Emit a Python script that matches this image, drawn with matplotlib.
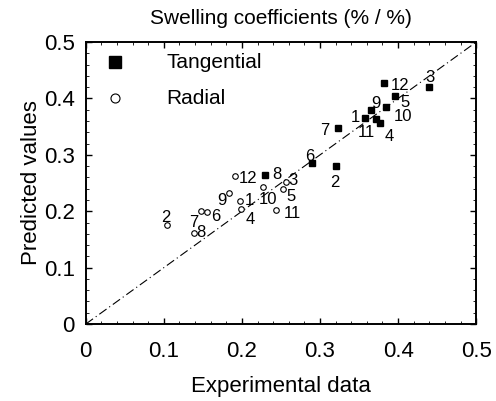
import numpy as np
import matplotlib.pyplot as plt
from matplotlib.ticker import MultipleLocator, FuncFormatter

plt.rcParams['font.family'] = ['Liberation Sans', 'DejaVu Sans']

# Data
labels = ['1', '2', '3', '4', '5', '6', '7', '8', '9', '10', '11', '12']
tan_exp = [0.357, 0.320, 0.440, 0.377, 0.396, 0.290, 0.323, 0.230, 0.365, 0.385, 0.372, 0.382]
tan_pred = [0.365, 0.280, 0.421, 0.356, 0.404, 0.285, 0.347, 0.264, 0.379, 0.385, 0.363, 0.428]
rad_exp = [0.198, 0.104, 0.256, 0.199, 0.253, 0.155, 0.147, 0.138, 0.183, 0.227, 0.243, 0.191]
rad_pred = [0.219, 0.176, 0.252, 0.204, 0.240, 0.198, 0.200, 0.161, 0.233, 0.243, 0.202, 0.262]

# label offsets (points)
tan_off = {'1': (-10, -3), '2': (-4, -15), '3': (-3, 3), '4': (3, -13), '5': (4, -8),
           '6': (-5, 2), '7': (-13, -5), '8': (5, -3), '9': (0, 2), '10': (5, -10),
           '11': (-13, -13), '12': (5, -5)}
rad_off = {'1': (3, -3), '2': (-4, 2), '3': (2, -2), '4': (3, -11), '5': (2, -9),
           '6': (3, -6), '7': (-8, -11), '8': (2, -3), '9': (-8, -9), '10': (-3, -12),
           '11': (6, -6), '12': (3, -5)}

fig = plt.figure(figsize=(4.96, 4.01), dpi=100)
ax = fig.add_axes([0.173, 0.192, 0.787, 0.703])

ax.plot([0, 0.5], [0, 0.5], color='black', lw=0.8, dashes=(8, 3, 1, 3))
ax.plot(tan_exp, tan_pred, 's', color='black', ms=5, lw=0)
ax.plot(rad_exp, rad_pred, 'o', mfc='white', mec='black', ms=4, mew=0.8, lw=0)

for lb, x, y in zip(labels, tan_exp, tan_pred):
    ax.annotate(lb, (x, y), xytext=tan_off[lb], textcoords='offset points', fontsize=12)
for lb, x, y in zip(labels, rad_exp, rad_pred):
    ax.annotate(lb, (x, y), xytext=rad_off[lb], textcoords='offset points', fontsize=12)

# legend drawn by hand
ax.plot([0.038], [0.4645], 's', color='black', ms=8)
ax.plot([0.038], [0.4005], 'o', mfc='white', mec='black', ms=6.5, mew=0.8)
ax.text(0.103, 0.4645, 'Tangential', fontsize=15, va='center')
ax.text(0.103, 0.4005, 'Radial', fontsize=15, va='center')

ax.set_xlim(0, 0.5)
ax.set_ylim(0, 0.5)
ax.xaxis.set_major_locator(MultipleLocator(0.1))
ax.yaxis.set_major_locator(MultipleLocator(0.1))
ax.xaxis.set_minor_locator(MultipleLocator(0.02))
ax.yaxis.set_minor_locator(MultipleLocator(0.02))
fmt = FuncFormatter(lambda v, p: '0' if abs(v) < 1e-9 else '%.1f' % v)
ax.xaxis.set_major_formatter(fmt)
ax.yaxis.set_major_formatter(fmt)
ax.tick_params(which='both', direction='in', top=True, right=True, labelsize=16)
ax.tick_params(which='major', length=4, width=1)
ax.tick_params(which='minor', length=2, width=0.6)
ax.tick_params(axis='x', pad=12)
ax.tick_params(axis='y', pad=8)
for s in ax.spines.values():
    s.set_linewidth(1.4)

ax.set_xlabel('Experimental data', fontsize=16, labelpad=10)
ax.set_ylabel('Predicted values', fontsize=16, labelpad=1)
ax.set_title('Swelling coefficients (% / %)', fontsize=15, pad=13)

fig.savefig('out.png', dpi=100)
